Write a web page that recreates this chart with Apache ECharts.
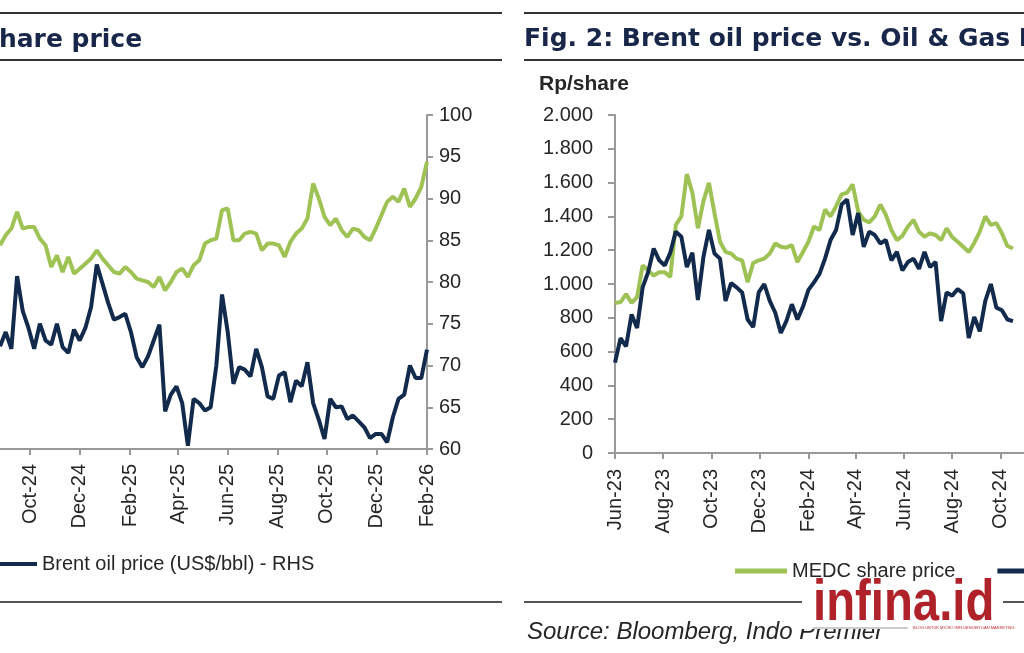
<!DOCTYPE html>
<html>
<head>
<meta charset="utf-8">
<script src="https://cdn.jsdelivr.net/npm/echarts@6.0.0/dist/echarts.min.js"></script>
<style>
    html, body { margin: 0; padding: 0; background: #fff; }
    #chart { width: 1024px; height: 653px; }
</style>
</head>
<body>
<div id="chart"></div>
<script>
    // Fig. 1 (left panel, cut at the left edge): weekly readings from 2024-08-25
    var leftStart = '2024-08-25';
    var leftEnd = '2026-02-01';
    var leftMedc = [1220, 1280, 1320, 1420, 1320, 1330, 1330, 1260, 1220, 1090, 1160, 1060, 1150, 1050, 1080, 1110,
        1140, 1190, 1140, 1100, 1060, 1050, 1090, 1060, 1020, 1010, 1000, 970, 1030, 950, 1000, 1060, 1080, 1030,
        1100, 1130, 1230, 1250, 1260, 1430, 1440, 1250, 1250, 1290, 1300, 1290, 1190, 1230, 1230, 1220, 1150, 1240,
        1290, 1320, 1380, 1590, 1500, 1390, 1340, 1380, 1310, 1270, 1320, 1310, 1270, 1250, 1320, 1400, 1480, 1510,
        1480, 1560, 1450, 1500, 1570, 1720];
    var leftBrent = [72.3, 74.0, 72.0, 80.7, 76.5, 74.5, 72.0, 75.0, 73.0, 72.5, 75.0, 72.2, 71.5, 74.3, 73.0, 74.5,
        77.0, 82.1, 79.8, 77.5, 75.5, 75.8, 76.2, 74.0, 71.0, 69.8, 71.1, 73.0, 74.9, 64.5, 66.5, 67.5, 65.5, 60.4,
        66.0, 65.5, 64.6, 65.0, 70.0, 78.5, 74.0, 67.8, 69.8, 69.5, 68.7, 72.0, 69.8, 66.3, 66.0, 68.8, 69.2, 65.6,
        68.2, 67.5, 70.4, 65.5, 63.5, 61.2, 66.0, 65.0, 65.1, 63.6, 64.0, 63.3, 62.6, 61.3, 61.8, 61.8, 60.8, 63.8,
        66.0, 66.5, 70.0, 68.5, 68.5, 71.9];

    // Fig. 2 (right panel, cut at the right edge): weekly readings from 2023-06-01
    var rightStart = '2023-06-01';
    var rightEnd = '2024-10-31';
    var rightMedc = [888, 893, 940, 888, 923, 1110, 1080, 1050, 1070, 1070, 1041, 1350, 1400, 1650, 1540, 1330, 1490,
        1598, 1420, 1250, 1190, 1180, 1150, 1140, 1010, 1124, 1140, 1150, 1180, 1240, 1220, 1215, 1230, 1130, 1189,
        1250, 1340, 1320, 1440, 1400, 1460, 1530, 1540, 1590, 1430, 1380, 1365, 1400, 1470, 1410, 1320, 1260, 1285,
        1340, 1379, 1310, 1280, 1300, 1290, 1260, 1330, 1278, 1250, 1220, 1189, 1243, 1310, 1400, 1350, 1360, 1300,
        1225, 1210];
    var rightBrent = [70.7, 73.6, 72.6, 76.4, 74.8, 79.6, 81.4, 84.2, 82.8, 82.2, 83.7, 86.2, 85.6, 82.0, 83.7, 78.1,
        83.2, 86.4, 83.6, 83.0, 78.0, 80.1, 79.6, 79.0, 75.8, 74.9, 79.0, 80.0, 78.0, 76.6, 74.2, 75.6, 77.6, 75.8,
        77.3, 79.3, 80.2, 81.2, 83.0, 85.2, 86.4, 89.4, 90.0, 85.8, 88.4, 84.4, 86.2, 85.8, 84.8, 85.2, 82.8, 83.8,
        81.6, 82.6, 83.0, 81.8, 83.8, 82.0, 82.6, 75.6, 79.0, 78.6, 79.4, 78.9, 73.6, 76.1, 74.4, 78.0, 80.0, 77.2,
        76.9, 75.8, 75.6];

    var medcName = 'MEDC share price';
    var brentName = 'Brent oil price (US$/bbl) - RHS';
    var monthNames = ['Jan', 'Feb', 'Mar', 'Apr', 'May', 'Jun', 'Jul', 'Aug', 'Sep', 'Oct', 'Nov', 'Dec'];

    var green = '#9fc255';
    var navy = '#122a4c';
    var axisGrey = '#9a9a9a';
    var textDark = '#262626';
    var titleColor = '#18264a';
    var font = 'Liberation Sans, Arial, sans-serif';
    var titleFont = 'bold 25px DejaVu Sans, Verdana, sans-serif';

    function isoDay(d) {
        return d.toISOString().slice(0, 10);
    }
    function addDays(start, n) {
        var d = new Date(start + 'T00:00:00Z');
        d.setUTCDate(d.getUTCDate() + n);
        return isoDay(d);
    }
    function dayList(start, end) {
        var out = [];
        var d = new Date(start + 'T00:00:00Z');
        var e = new Date(end + 'T00:00:00Z');
        while (d <= e) {
            out.push(isoDay(d));
            d.setUTCDate(d.getUTCDate() + 1);
        }
        return out;
    }
    function weekly(start, values) {
        return values.map(function (v, i) { return [addDays(start, 7 * i), v]; });
    }
    // ticks and labels on the 1st of every even month
    function evenMonthStart(index, value) {
        return value.slice(8) === '01' && (+value.slice(5, 7)) % 2 === 0;
    }
    function monthLabel(value) {
        return monthNames[+value.slice(5, 7) - 1] + '-' + value.slice(2, 4);
    }
    function rpLabel(v) {
        if (v < 1000) return String(v);
        return Math.floor(v / 1000) + '.' + String(v % 1000).padStart(3, '0');
    }

    function dateAxis(gridIndex, start, end, labelMargin) {
        return {
            type: 'category',
            gridIndex: gridIndex,
            data: dayList(start, end),
            boundaryGap: false,
            axisLine: { lineStyle: { color: axisGrey, width: 2 } },
            axisTick: { interval: evenMonthStart, length: 6, lineStyle: { color: axisGrey, width: 2 } },
            axisLabel: {
                interval: evenMonthStart,
                formatter: monthLabel,
                rotate: 90,
                margin: labelMargin,
                color: textDark,
                fontFamily: font,
                fontSize: 20
            }
        };
    }

    var legendText = { color: textDark, fontFamily: font, fontSize: 20 };

    var myChart = echarts.init(document.getElementById('chart'));
    var option = {
        animation: false,
        backgroundColor: '#fff',
        grid: [
            { left: 0, top: 115, width: 427, height: 334 },
            { left: 615, top: 115, width: 426, height: 338 }
        ],
        xAxis: [
            dateAxis(0, leftStart, leftEnd, 15),
            dateAxis(1, rightStart, rightEnd, 16)
        ],
        yAxis: [
            // LHS of Fig. 1 lies outside the picture
            { type: 'value', gridIndex: 0, position: 'left', min: 0, max: 2000, interval: 250, show: false },
            {
                type: 'value', gridIndex: 0, position: 'right', min: 60, max: 100, interval: 5,
                splitLine: { show: false },
                axisLine: { show: true, lineStyle: { color: axisGrey, width: 2 } },
                axisTick: { show: true, length: 6, lineStyle: { color: axisGrey, width: 2 } },
                axisLabel: { margin: 12, color: textDark, fontFamily: font, fontSize: 20 }
            },
            {
                type: 'value', gridIndex: 1, position: 'left', min: 0, max: 2000, interval: 200,
                splitLine: { show: false },
                axisLine: { show: true, lineStyle: { color: axisGrey, width: 2 } },
                axisTick: { show: true, length: 7, lineStyle: { color: axisGrey, width: 2 } },
                axisLabel: { margin: 22, formatter: rpLabel, color: textDark, fontFamily: font, fontSize: 20 }
            },
            // RHS of Fig. 2 lies outside the picture
            { type: 'value', gridIndex: 1, position: 'right', min: 60, max: 100, interval: 5, show: false }
        ],
        legend: [
            {
                data: [brentName],
                left: -15, top: 554, width: 600, padding: 0,
                icon: 'rect', itemWidth: 52, itemHeight: 4, itemGap: 42,
                textStyle: legendText
            },
            {
                data: [medcName, brentName],
                left: 735, top: 561, width: 800, padding: 0,
                icon: 'rect', itemWidth: 52, itemHeight: 5, itemGap: 42,
                textStyle: legendText
            }
        ],
        series: [
            {
                name: medcName, type: 'line', xAxisIndex: 0, yAxisIndex: 0,
                data: weekly(leftStart, leftMedc), symbol: 'none',
                lineStyle: { color: green, width: 4 }, itemStyle: { color: green }
            },
            {
                name: brentName, type: 'line', xAxisIndex: 0, yAxisIndex: 1,
                data: weekly(leftStart, leftBrent), symbol: 'none',
                lineStyle: { color: navy, width: 4 }, itemStyle: { color: navy }
            },
            {
                name: medcName, type: 'line', xAxisIndex: 1, yAxisIndex: 2,
                data: weekly(rightStart, rightMedc), symbol: 'none',
                lineStyle: { color: green, width: 4 }, itemStyle: { color: green }
            },
            {
                name: brentName, type: 'line', xAxisIndex: 1, yAxisIndex: 3,
                data: weekly(rightStart, rightBrent), symbol: 'none',
                lineStyle: { color: navy, width: 4 }, itemStyle: { color: navy }
            }
        ],
        graphic: [
            // page rules
            { type: 'line', shape: { x1: 0, y1: 13, x2: 502, y2: 13 }, style: { stroke: '#333', lineWidth: 2 } },
            { type: 'line', shape: { x1: 0, y1: 60, x2: 502, y2: 60 }, style: { stroke: '#333', lineWidth: 2 } },
            { type: 'line', shape: { x1: 0, y1: 602, x2: 502, y2: 602 }, style: { stroke: '#555', lineWidth: 2 } },
            { type: 'line', shape: { x1: 524, y1: 13, x2: 1024, y2: 13 }, style: { stroke: '#333', lineWidth: 2 } },
            { type: 'line', shape: { x1: 524, y1: 60, x2: 1024, y2: 60 }, style: { stroke: '#333', lineWidth: 2 } },
            { type: 'line', shape: { x1: 524, y1: 602, x2: 1024, y2: 602 }, style: { stroke: '#555', lineWidth: 2 } },
            // titles
            {
                type: 'text', left: -16, top: 28,
                style: { text: 'share price', fill: titleColor, font: titleFont }
            },
            {
                type: 'text', left: 524, top: 27,
                style: { text: 'Fig. 2: Brent oil price vs. Oil & Gas Index', fill: titleColor, font: titleFont }
            },
            {
                type: 'text', left: 539, top: 74,
                style: { text: 'Rp/share', fill: textDark, font: 'bold 21px ' + font }
            },
            {
                type: 'text', left: 527, top: 620,
                style: { text: 'Source: Bloomberg, Indo Premier', fill: textDark, font: 'italic 24px ' + font }
            },
            // watermark logo
            { type: 'rect', shape: { x: 802, y: 579, width: 201, height: 50 }, style: { fill: '#fff' } },
            {
                type: 'text', x: 813, y: 576, scaleX: 0.83,
                style: {
                    x: 0, y: 0, text: 'infina.id', verticalAlign: 'top',
                    font: 'bold 57px ' + font,
                    fill: '#b0222a'
                }
            },
            { type: 'line', shape: { x1: 813, y1: 628, x2: 908, y2: 628 }, style: { stroke: '#999', lineWidth: 1 } },
            {
                type: 'text', left: 913, top: 626,
                style: { text: 'BLOG UNTUK MICRO INFLUENCER DAN MARKETING', fill: '#c0282d', font: '4px ' + font }
            }
        ]
    };
    myChart.setOption(option, true);
</script>
</body>
</html>
